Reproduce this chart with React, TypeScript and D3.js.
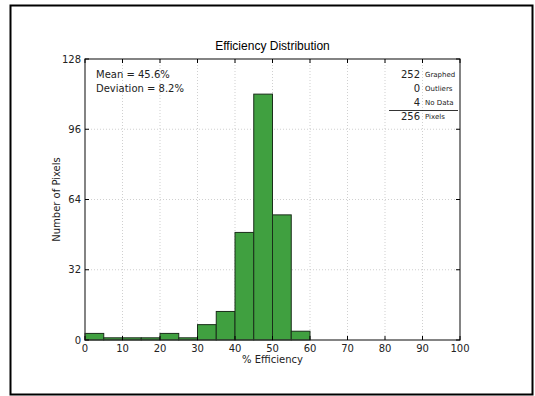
import { useEffect, useRef } from 'react';
import * as d3 from 'd3';

// histogram bins, 5% wide
const binStarts = [0, 5, 10, 15, 20, 25, 30, 35, 40, 45, 50, 55];
const binCounts = [3, 1, 1, 1, 3, 1, 7, 13, 49, 112, 57, 4];
const xTicks = [0, 10, 20, 30, 40, 50, 60, 70, 80, 90, 100];
const yTicks = [0, 32, 64, 96, 128];
const statsLines = ['Mean = 45.6%', 'Deviation = 8.2%'];
const summaryValues = ['252', '0', '4', '256'];
const summaryLabels = ['Graphed', 'Outliers', 'No Data', 'Pixels'];

const W = 535;
const H = 396;

function App() {
  const svgRef = useRef<SVGSVGElement>(null);

  useEffect(() => {
    const svg = d3.select(svgRef.current);
    svg.selectAll('*').remove();

    const margin = { top: 59, right: 75, bottom: 56, left: 85 };
    const width = W - margin.left - margin.right,
      height = H - margin.top - margin.bottom;
    const font = 'DejaVu Sans, sans-serif';

    // outer frame
    svg
      .append('rect')
      .attr('x', 10.5)
      .attr('y', 5.5)
      .attr('width', 522)
      .attr('height', 389)
      .attr('fill', 'white')
      .attr('stroke', 'black')
      .attr('stroke-width', 2);

    const g = svg.append('g').attr('transform', `translate(${margin.left}, ${margin.top})`);

    const x = d3.scaleLinear().domain([0, 100]).range([0, width]);
    const y = d3.scaleLinear().domain([0, 128]).range([height, 0]);

    // grid
    g.selectAll('.vgrid')
      .data(xTicks.slice(1, -1))
      .enter()
      .append('line')
      .attr('x1', (d) => x(d))
      .attr('x2', (d) => x(d))
      .attr('y1', 0)
      .attr('y2', height)
      .attr('stroke', '#b0b0b0')
      .attr('stroke-width', 0.6)
      .attr('stroke-dasharray', '1,2');
    g.selectAll('.hgrid')
      .data(yTicks.slice(1, -1))
      .enter()
      .append('line')
      .attr('x1', 0)
      .attr('x2', width)
      .attr('y1', (d) => y(d))
      .attr('y2', (d) => y(d))
      .attr('stroke', '#b0b0b0')
      .attr('stroke-width', 0.6)
      .attr('stroke-dasharray', '1,2');

    // bars
    g.selectAll('.bar')
      .data(binStarts)
      .enter()
      .append('rect')
      .attr('x', (d) => x(d))
      .attr('y', (d, i) => y(binCounts[i]))
      .attr('width', (d) => x(d + 5) - x(d))
      .attr('height', (d, i) => height - y(binCounts[i]))
      .attr('fill', '#40a040')
      .attr('stroke', '#1a2e1a')
      .attr('stroke-width', 1);

    // frame of the axes
    g.append('rect')
      .attr('width', width)
      .attr('height', height)
      .attr('fill', 'none')
      .attr('stroke', '#333')
      .attr('stroke-width', 1.2);

    // inward ticks on all four sides
    const tickLen = 4;
    xTicks.forEach((t) => {
      g.append('line').attr('x1', x(t)).attr('x2', x(t)).attr('y1', height).attr('y2', height - tickLen).attr('stroke', 'black');
      g.append('line').attr('x1', x(t)).attr('x2', x(t)).attr('y1', 0).attr('y2', tickLen).attr('stroke', 'black');
    });
    yTicks.forEach((t) => {
      g.append('line').attr('x1', 0).attr('x2', tickLen).attr('y1', y(t)).attr('y2', y(t)).attr('stroke', 'black');
      g.append('line').attr('x1', width).attr('x2', width - tickLen).attr('y1', y(t)).attr('y2', y(t)).attr('stroke', 'black');
    });

    // tick labels
    g.selectAll('.xlab')
      .data(xTicks)
      .enter()
      .append('text')
      .attr('x', (d) => x(d))
      .attr('y', height + 12)
      .attr('text-anchor', 'middle')
      .attr('font-family', font)
      .attr('font-size', 10)
      .attr('fill', '#222')
      .text((d) => d);
    g.selectAll('.ylab')
      .data(yTicks)
      .enter()
      .append('text')
      .attr('x', -4)
      .attr('y', (d) => y(d) + 3.5)
      .attr('text-anchor', 'end')
      .attr('font-family', font)
      .attr('font-size', 10)
      .attr('fill', '#222')
      .text((d) => d);

    // title and axis labels
    g.append('text')
      .attr('x', width / 2)
      .attr('y', -9)
      .attr('text-anchor', 'middle')
      .attr('font-family', 'Liberation Sans, Arial, sans-serif')
      .attr('font-size', 12)
      .text('Efficiency Distribution');
    g.append('text')
      .attr('x', width / 2)
      .attr('y', height + 23)
      .attr('text-anchor', 'middle')
      .attr('font-family', font)
      .attr('font-size', 10)
      .attr('fill', '#222')
      .text('% Efficiency');
    g.append('text')
      .attr('transform', `translate(-25, ${height / 2}) rotate(-90)`)
      .attr('text-anchor', 'middle')
      .attr('font-family', font)
      .attr('font-size', 10)
      .attr('fill', '#222')
      .text('Number of Pixels');

    // stats, top left
    g.selectAll('.stat')
      .data(statsLines)
      .enter()
      .append('text')
      .attr('x', 11)
      .attr('y', (d, i) => 19 + i * 14)
      .attr('font-family', font)
      .attr('font-size', 10)
      .attr('fill', '#222')
      .text((d) => d);

    // pixel summary, top right
    summaryValues.forEach((v, i) => {
      g.append('text')
        .attr('x', 335)
        .attr('y', 19 + i * 14)
        .attr('text-anchor', 'end')
        .attr('font-family', font)
        .attr('font-size', 10)
        .attr('fill', '#222')
        .text(v);
      g.append('text')
        .attr('x', 340)
        .attr('y', 17.5 + i * 14)
        .attr('font-family', font)
        .attr('font-size', 7)
        .attr('fill', '#222')
        .text(summaryLabels[i]);
    });
    g.append('line')
      .attr('x1', 304)
      .attr('x2', 373)
      .attr('y1', 51.5)
      .attr('y2', 51.5)
      .attr('stroke', 'black')
      .attr('stroke-width', 0.8);
  }, []);

  return (
    <svg
      ref={svgRef}
      width={W}
      height={H}
      style={{ position: 'absolute', left: 0, top: 0, background: 'white' }}
    />
  );
}

export default App;
